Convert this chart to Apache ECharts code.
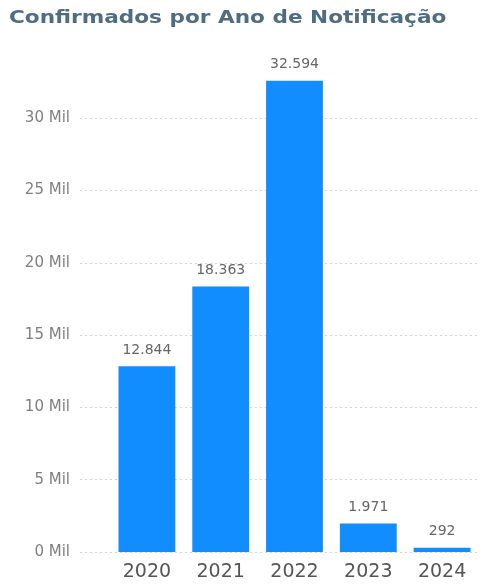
<!DOCTYPE html>
<html>
<head>
<meta charset="utf-8">
<script src="https://cdn.jsdelivr.net/npm/echarts@6/dist/echarts.min.js"></script>
<style>
html,body{margin:0;padding:0;background:#fff;}
#c{width:488px;height:586px;}
</style>
</head>
<body>
<div id="c"></div>
<script>
const titleText = 'Confirmados por Ano de Notificação';
const categories = ['2020', '2021', '2022', '2023', '2024'];
const values = [12844, 18363, 32594, 1971, 292];
const yTicks = [0, 5000, 10000, 15000, 20000, 25000, 30000];

function fmtThousands(v) {
  return String(v).replace(/\B(?=(\d{3})+(?!\d))/g, '.');
}

const H = 586, TOP = 46, BOTTOM = 34, YMAX = 35000;
const tickMax = yTicks[yTicks.length - 1];
const gridTop0 = TOP + (H - TOP - BOTTOM) * (1 - tickMax / YMAX);

const chart = echarts.init(document.getElementById('c'), null, {renderer: 'canvas'});
chart.setOption({
  animation: false,
  backgroundColor: '#ffffff',
  graphic: [{
    type: 'text',
    x: 9,
    y: 9,
    scaleX: 1.2,
    style: {
      text: titleText,
      font: 'bold 18px "DejaVu Sans"',
      fill: '#4f6d82'
    }
  }],
  grid: [
    {left: 80, right: 9, top: gridTop0, bottom: BOTTOM},
    {left: 110, right: 9, top: TOP, bottom: BOTTOM}
  ],
  xAxis: [
    {type: 'category', gridIndex: 0, data: [''], show: false},
    {
      type: 'category', gridIndex: 1, data: categories,
      axisLine: {show: false}, axisTick: {show: false},
      axisLabel: {fontFamily: 'DejaVu Sans', fontSize: 19, color: '#555555', margin: 11}
    }
  ],
  yAxis: [
    {
      type: 'value', gridIndex: 0, min: 0, max: tickMax, interval: 5000,
      axisLine: {show: false}, axisTick: {show: false},
      axisLabel: {
        fontFamily: 'DejaVu Sans', fontSize: 15, color: '#808080', margin: 10,
        formatter: function (v) { return (v / 1000) + ' Mil'; }
      },
      splitLine: {
        show: true,
        lineStyle: {type: [2, 3], color: '#d4d4d4', width: 1}
      }
    },
    {
      type: 'value', gridIndex: 1, min: 0, max: YMAX, interval: 5000,
      show: false, splitLine: {show: false}
    }
  ],
  series: [{
    type: 'bar',
    xAxisIndex: 1,
    yAxisIndex: 1,
    data: values,
    barWidth: '77%',
    itemStyle: {color: '#118DFF'},
    label: {
      show: true,
      position: 'top',
      distance: 9,
      fontFamily: 'DejaVu Sans',
      fontSize: 14,
      color: '#666666',
      formatter: function (p) { return fmtThousands(p.value); }
    }
  }]
});
</script>
</body>
</html>
